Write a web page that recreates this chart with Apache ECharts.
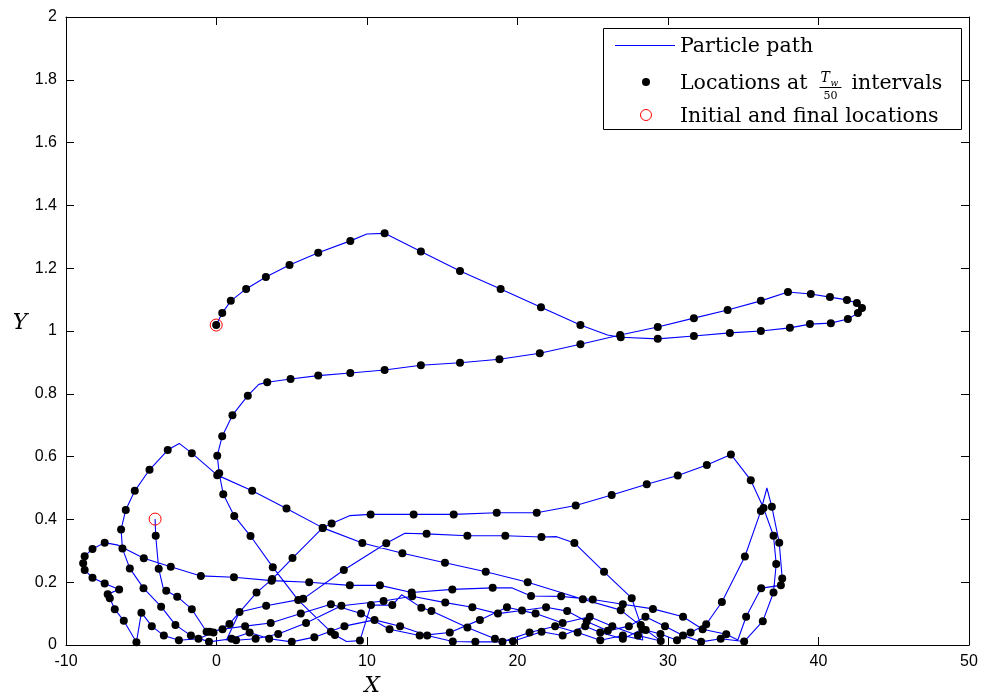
<!DOCTYPE html>
<html>
<head>
<meta charset="utf-8">
<script src="https://cdn.jsdelivr.net/npm/echarts@6/dist/echarts.min.js"></script>
<style>
  html, body { margin: 0; padding: 0; background: #ffffff; }
  #chart { width: 995px; height: 697px; }
</style>
</head>
<body>
<div id="chart"></div>
<script>
// Axis ticks
const xTicks = [-10, 0, 10, 20, 30, 40, 50];
const yTicks = [0, 0.2, 0.4, 0.6, 0.8, 1, 1.2, 1.4, 1.6, 1.8, 2];

// Particle trajectory, in order of travel: [X, Y, sampled]
// sampled = 1 marks a location recorded at Tw/50 intervals
const upperLoop = [
  [-0.02, 1.019, 1], [0.38, 1.057, 1], [0.95, 1.096, 1], [1.97, 1.134, 1], [3.28, 1.172, 1],
  [4.85, 1.210, 1], [6.76, 1.249, 1], [8.89, 1.287, 1], [9.99, 1.309, 0], [11.17, 1.311, 1],
  [13.58, 1.253, 1], [16.18, 1.191, 1], [18.88, 1.134, 1], [21.56, 1.076, 1], [24.18, 1.019, 1],
  [25.98, 0.987, 0], [26.86, 0.980, 1], [29.32, 0.975, 1], [31.72, 0.984, 1], [34.11, 0.994, 1],
  [36.17, 1.000, 1], [38.10, 1.010, 1], [39.43, 1.022, 1], [40.82, 1.025, 1], [41.95, 1.038, 1],
  [42.62, 1.057, 1], [42.89, 1.073, 1], [42.55, 1.089, 1], [41.89, 1.099, 1], [40.76, 1.108, 1],
  [39.49, 1.118, 1], [37.97, 1.124, 1], [36.17, 1.096, 1], [33.96, 1.067, 1], [31.72, 1.041, 1],
  [29.32, 1.013, 1], [26.82, 0.987, 1]
];
const innerDescent = [
  [24.18, 0.958, 1], [21.48, 0.929, 1], [18.80, 0.910, 1], [16.18, 0.899, 1], [13.58, 0.891, 1],
  [11.17, 0.876, 1], [8.89, 0.866, 1], [6.76, 0.858, 1], [4.92, 0.847, 1], [3.37, 0.837, 1],
  [2.81, 0.830, 0], [2.08, 0.794, 1], [1.06, 0.732, 1], [0.38, 0.665, 1], [0.05, 0.603, 1],
  [0.18, 0.547, 1], [0.45, 0.480, 1], [1.18, 0.411, 1], [2.26, 0.347, 1], [3.74, 0.248, 1],
  [5.43, 0.143, 1], [7.60, 0.042, 1], [7.87, 0.032, 1], [8.64, 0.011, 0], [9.53, 0.014, 1]
];
const floorAndSpike = [
  [10.26, 0.127, 1], [11.68, 0.127, 1], [12.30, 0.160, 0], [13.61, 0.119, 1], [14.28, 0.108, 1],
  [16.67, 0.056, 1], [18.50, 0.020, 1], [19.70, 0.012, 1], [21.60, 0.042, 1], [23.00, 0.030, 1],
  [24.50, 0.060, 1], [25.50, 0.040, 1], [27.00, 0.020, 1], [28.30, 0.050, 1], [29.50, 0.035, 1],
  [30.60, 0.015, 1], [31.50, 0.040, 1], [32.54, 0.066, 1], [33.58, 0.137, 1], [35.11, 0.282, 1],
  [36.17, 0.427, 1], [36.57, 0.500, 0], [36.90, 0.440, 1], [37.39, 0.326, 1], [37.59, 0.212, 1],
  [37.50, 0.190, 1], [36.19, 0.181, 1], [35.19, 0.090, 1], [34.64, 0.016, 0], [33.87, 0.034, 1]
];
const westwardSweep = [
  [32.30, 0.050, 1], [31.00, 0.090, 1], [29.00, 0.115, 1], [27.00, 0.130, 1], [25.00, 0.145, 1],
  [22.90, 0.155, 1], [20.90, 0.156, 1], [19.61, 0.182, 0], [18.35, 0.182, 1], [15.67, 0.177, 1],
  [12.97, 0.167, 1], [10.86, 0.190, 1], [8.86, 0.190, 1], [6.16, 0.200, 1], [3.66, 0.205, 1],
  [1.16, 0.216, 1], [-1.04, 0.220, 1], [-3.04, 0.249, 1], [-4.83, 0.276, 1], [-6.54, 0.318, 0],
  [-7.43, 0.326, 1], [-8.24, 0.306, 1], [-8.76, 0.283, 1], [-8.86, 0.260, 1], [-8.76, 0.239, 1],
  [-8.24, 0.214, 1], [-7.43, 0.196, 1], [-6.47, 0.177, 1], [-7.23, 0.162, 1], [-7.09, 0.149, 1],
  [-6.76, 0.114, 1], [-6.16, 0.077, 1], [-5.32, 0.009, 1], [-4.99, 0.103, 1], [-4.30, 0.060, 1],
  [-3.50, 0.030, 1], [-2.50, 0.015, 1], [-1.20, 0.020, 1], [-0.20, 0.040, 1]
];
const plateauArc = [
  [0.86, 0.067, 1], [2.66, 0.167, 1], [3.70, 0.210, 1], [5.05, 0.277, 1], [7.05, 0.373, 1],
  [7.65, 0.387, 1], [8.84, 0.412, 0], [10.24, 0.416, 1], [13.10, 0.416, 1], [15.76, 0.416, 1],
  [18.62, 0.421, 1], [21.28, 0.421, 1], [23.87, 0.444, 1], [26.26, 0.478, 1], [28.59, 0.512, 1],
  [30.65, 0.540, 1], [32.58, 0.573, 1], [34.18, 0.607, 1], [35.50, 0.525, 1], [36.35, 0.436, 1],
  [37.01, 0.348, 1], [37.19, 0.258, 1], [37.01, 0.167, 1], [36.30, 0.076, 1], [35.06, 0.011, 1]
];
const floorReturn = [
  [33.50, 0.020, 1], [32.20, 0.010, 1], [31.00, 0.030, 1], [29.80, 0.060, 1], [28.50, 0.090, 1],
  [27.40, 0.060, 1], [26.00, 0.045, 1], [24.60, 0.075, 1], [23.30, 0.108, 1], [21.90, 0.120, 1],
  [20.30, 0.110, 1], [18.70, 0.100, 1], [17.00, 0.120, 1], [15.20, 0.135, 1], [13.00, 0.155, 1],
  [11.10, 0.140, 1], [8.30, 0.125, 1], [5.95, 0.070, 1], [4.10, 0.035, 1], [2.60, 0.020, 1],
  [1.30, 0.015, 1], [0.66, 0.016, 0]
];
const secondPlateau = [
  [1.53, 0.105, 1], [3.30, 0.125, 1], [5.76, 0.147, 1], [8.46, 0.239, 1], [11.28, 0.324, 1],
  [12.52, 0.356, 0], [13.96, 0.354, 1], [16.67, 0.348, 1], [19.19, 0.348, 1], [21.59, 0.344, 1],
  [22.60, 0.345, 0], [23.78, 0.325, 1], [25.75, 0.233, 1], [27.59, 0.149, 1], [28.19, 0.064, 1],
  [28.32, 0.016, 0]
];
const westernLoop = [
  [27.00, 0.030, 1], [25.50, 0.015, 1], [24.00, 0.040, 1], [22.50, 0.060, 1], [20.80, 0.040, 1],
  [19.00, 0.010, 1], [17.20, 0.010, 1], [15.70, 0.011, 1], [14.00, 0.030, 1], [12.20, 0.060, 1],
  [10.50, 0.080, 1], [8.50, 0.060, 1], [6.50, 0.025, 1], [5.00, 0.010, 1], [3.50, 0.020, 1],
  [2.20, 0.040, 1], [1.00, 0.020, 1], [-0.50, 0.010, 1], [-1.70, 0.030, 1], [-2.73, 0.064, 1],
  [-3.68, 0.122, 1], [-4.85, 0.181, 1], [-5.76, 0.244, 1], [-6.25, 0.307, 1], [-6.34, 0.368, 1],
  [-6.03, 0.430, 1], [-5.43, 0.491, 1], [-4.45, 0.558, 1], [-3.24, 0.621, 1], [-2.48, 0.642, 0],
  [-1.64, 0.611, 1], [0.05, 0.541, 1], [2.37, 0.491, 1], [4.65, 0.435, 1], [7.07, 0.373, 1],
  [9.69, 0.325, 1], [12.35, 0.292, 1], [15.18, 0.262, 1], [17.89, 0.233, 1], [20.68, 0.200, 1],
  [24.34, 0.146, 1], [26.86, 0.111, 1], [28.52, 0.048, 1], [29.52, 0.013, 1]
];
const finalApproach = [
  [28.00, 0.030, 1], [26.30, 0.060, 1], [24.80, 0.090, 1], [23.00, 0.070, 1], [21.20, 0.100, 1],
  [19.30, 0.120, 1], [17.50, 0.080, 1], [15.50, 0.040, 1], [13.50, 0.030, 1], [11.50, 0.050, 1],
  [9.60, 0.100, 1], [7.60, 0.130, 1], [5.60, 0.100, 1], [3.60, 0.070, 1], [1.90, 0.060, 1],
  [0.40, 0.050, 1], [-0.45, 0.042, 1], [-0.66, 0.042, 1], [-1.64, 0.114, 1], [-2.61, 0.154, 1],
  [-3.34, 0.173, 1], [-3.54, 0.181, 0], [-3.84, 0.243, 1], [-4.04, 0.348, 1], [-4.08, 0.401, 0]
];

// Start and end of the trajectory
const endpoints = [[-0.02, 1.019], [-4.08, 0.401]];

const trajectory = [].concat(upperLoop, innerDescent, floorAndSpike, westwardSweep,
  plateauArc, floorReturn, secondPlateau, westernLoop, finalApproach);
const pathData = trajectory.map(p => [p[0], p[1]]);
const sampleData = trajectory.filter(p => p[2] === 1).map(p => [p[0], p[1]]);

const legendTexts = {
  path: 'Particle path',
  samplesPre: 'Locations at',
  samplesPost: 'intervals',
  ends: 'Initial and final locations'
};

const chart = echarts.init(document.getElementById('chart'));

const serif = '"DejaVu Serif", serif';
const sans = '"Liberation Sans", Arial, sans-serif';
const measure = document.createElement('canvas').getContext('2d');
function widthOf(str, font) { measure.font = font; return measure.measureText(str).width; }

const legendFont = '20.5px ' + serif;
const textX = 680;
const fracX = textX + widthOf(legendTexts.samplesPre, legendFont) + 12;
const fracW = 22;
const postX = fracX + fracW + 10;

function label(text, x, y, font, align) {
  return {
    type: 'text', z: 101,
    style: {
      text: text, x: x, y: y, font: font, fill: '#000',
      align: align || 'left', textAlign: align || 'left',
      verticalAlign: 'middle', textVerticalAlign: 'middle'
    }
  };
}

const axisCommon = {
  type: 'value',
  axisLine: { show: true, onZero: false, lineStyle: { color: '#000', width: 1 } },
  axisTick: { show: true, inside: true, length: 8, lineStyle: { color: '#000' } },
  splitLine: { show: false },
  axisLabel: { show: false }
};

chart.setOption({
  animation: false,
  backgroundColor: '#ffffff',
  grid: { left: 66, right: 26, top: 17, bottom: 52, containLabel: false },
  xAxis: [
    Object.assign({}, axisCommon, {
      position: 'bottom', min: xTicks[0], max: xTicks[xTicks.length - 1], interval: xTicks[1] - xTicks[0],
      axisLabel: { show: true, color: '#000', fontSize: 16, fontFamily: sans, margin: 9 }
    }),
    Object.assign({}, axisCommon, {
      position: 'top', min: xTicks[0], max: xTicks[xTicks.length - 1], interval: xTicks[1] - xTicks[0]
    })
  ],
  yAxis: [
    Object.assign({}, axisCommon, {
      position: 'left', min: yTicks[0], max: yTicks[yTicks.length - 1], interval: yTicks[1] - yTicks[0],
      axisLabel: { show: true, color: '#000', fontSize: 16, fontFamily: sans, margin: 9 }
    }),
    Object.assign({}, axisCommon, {
      position: 'right', min: yTicks[0], max: yTicks[yTicks.length - 1], interval: yTicks[1] - yTicks[0]
    })
  ],
  series: [
    {
      name: legendTexts.path, type: 'line', data: pathData,
      showSymbol: false, symbol: 'none', smooth: false,
      lineStyle: { color: '#0000ff', width: 1.1 }, z: 2
    },
    {
      name: 'samples', type: 'scatter', data: sampleData,
      symbol: 'circle', symbolSize: 8,
      itemStyle: { color: '#000000', opacity: 1 }, z: 3
    },
    {
      name: 'endpoints', type: 'scatter', data: endpoints,
      symbol: 'circle', symbolSize: 12,
      itemStyle: { color: 'rgba(0,0,0,0)', borderColor: '#ff0000', borderWidth: 1, opacity: 1 }, z: 4
    }
  ],
  graphic: [
    label('X', 372, 686, 'italic 22px ' + serif, 'center'),
    label('Y', 20, 323, 'italic 22px ' + serif, 'center'),
    {
      type: 'rect', z: 100,
      shape: { x: 603.5, y: 28.5, width: 358, height: 101 },
      style: { fill: '#ffffff', stroke: '#000000', lineWidth: 1 }
    },
    {
      type: 'line', z: 101,
      shape: { x1: 615, y1: 45.5, x2: 675, y2: 45.5 },
      style: { stroke: '#0000ff', lineWidth: 1 }
    },
    label(legendTexts.path, textX, 47, legendFont),
    { type: 'circle', z: 101, shape: { cx: 646, cy: 82, r: 4 }, style: { fill: '#000000' } },
    label(legendTexts.samplesPre, textX, 84, legendFont),
    label('T', fracX + 1, 78, 'italic 14px ' + serif),
    label('w', fracX + 11, 83.5, 'italic 9px ' + serif),
    {
      type: 'line', z: 101,
      shape: { x1: fracX, y1: 87.5, x2: fracX + fracW, y2: 87.5 },
      style: { stroke: '#000000', lineWidth: 1 }
    },
    label('50', fracX + fracW / 2, 96.5, '11px ' + serif, 'center'),
    label(legendTexts.samplesPost, postX, 84, legendFont),
    {
      type: 'circle', z: 101, shape: { cx: 646, cy: 115, r: 5.5 },
      style: { fill: 'none', stroke: '#ff0000', lineWidth: 1 }
    },
    label(legendTexts.ends, textX, 117, legendFont)
  ]
});
</script>
</body>
</html>
